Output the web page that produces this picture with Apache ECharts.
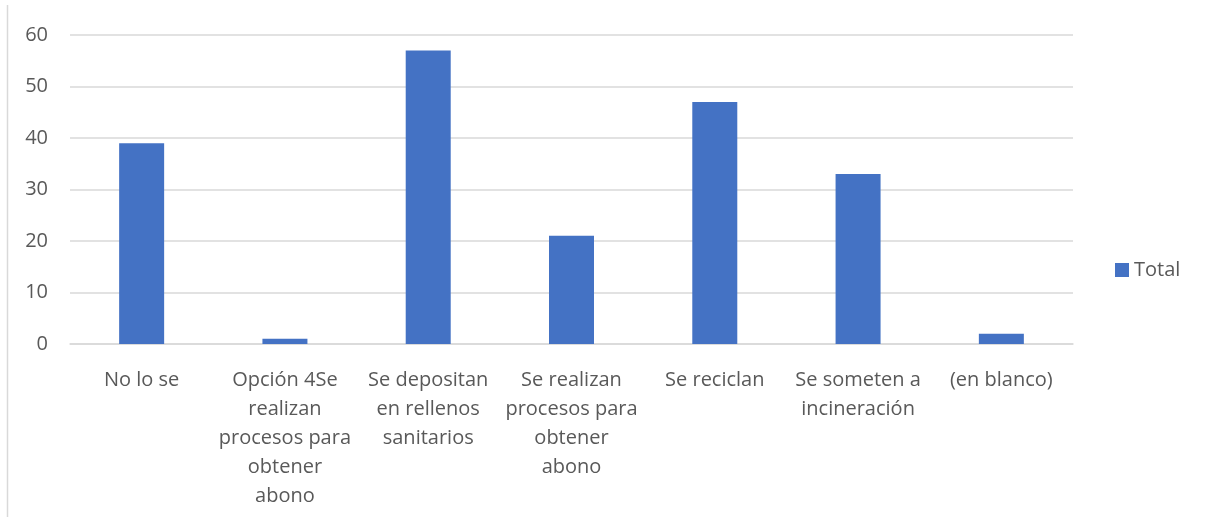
<!DOCTYPE html>
<html><head><meta charset="utf-8">
<script src="https://cdn.jsdelivr.net/npm/echarts@6/dist/echarts.min.js"></script>
<style>html,body{margin:0;padding:0;background:#fff}#c{width:1209px;height:517px}</style>
</head><body><div id="c"></div>
<script>
const categories = ['No lo se', 'Opción 4Se\nrealizan\nprocesos para\nobtener\nabono', 'Se depositan\nen rellenos\nsanitarios', 'Se realizan\nprocesos para\nobtener\nabono', 'Se reciclan', 'Se someten a\nincineración', '(en blanco)'];
const totals = [39, 1, 57, 21, 47, 33, 2];
const yTicks = [0, 10, 20, 30, 40, 50, 60];
const seriesName = 'Total';

const FONT = 'Open Sans';
const chart = echarts.init(document.getElementById('c'), null, {renderer: 'canvas'});
chart.setOption({
  animation: false,
  textStyle: {fontFamily: FONT},
  grid: {left: 70, right: 136, top: 35, bottom: 173, containLabel: false},
  legend: {
    data: [seriesName], orient: 'vertical', left: 1110, top: 255,
    icon: 'rect', itemWidth: 14, itemHeight: 14, itemGap: 6,
    textStyle: {fontSize: 20, color: '#595959', fontFamily: FONT}
  },
  xAxis: {
    type: 'category', data: categories,
    axisLine: {show: true, lineStyle: {color: '#d9d9d9', width: 1.5}},
    axisTick: {show: false},
    axisLabel: {interval: 0, fontSize: 20, color: '#595959', lineHeight: 29, margin: 22, fontFamily: FONT}
  },
  yAxis: {
    type: 'value', min: yTicks[0], max: yTicks[yTicks.length - 1], interval: 10,
    axisLine: {show: false}, axisTick: {show: false},
    splitLine: {lineStyle: {color: '#d9d9d9', width: 1.5}},
    axisLabel: {fontSize: 20, color: '#595959', margin: 22, fontFamily: FONT}
  },
  graphic: [{type: 'line', shape: {x1: 7.5, y1: 5, x2: 7.5, y2: 517}, style: {stroke: '#d9d9d9', lineWidth: 1.5}}],
  series: [{
    name: seriesName, type: 'bar', data: totals, barWidth: 45,
    itemStyle: {color: '#4472c4'}
  }]
});
</script></body></html>
